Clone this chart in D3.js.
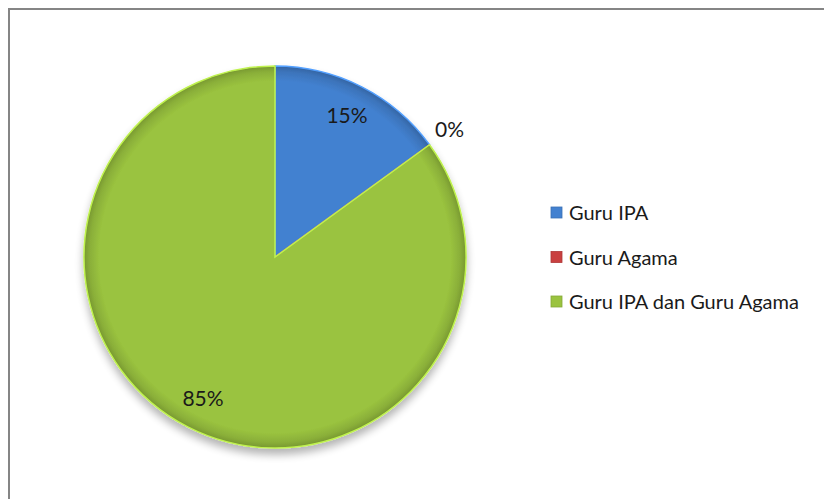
<!DOCTYPE html>
<html><head><meta charset="utf-8">
<script src="https://cdn.jsdelivr.net/npm/d3@7"></script>
<style>body{margin:0;background:#fff}svg{display:block}</style>
</head><body>
<script>
const categories = ["Guru IPA", "Guru Agama", "Guru IPA dan Guru Agama"];
const values = [15, 0, 85];
const labels = ["15%", "0%", "85%"];
const colors = ["#4381D0", "#C94040", "#9AC33F"];

const W = 824, H = 499;
const svg = d3.select("body").append("svg").attr("width", W).attr("height", H);
const defs = svg.append("defs");

svg.append("rect").attr("x", 9).attr("y", 9).attr("width", W).attr("height", H)
  .attr("fill", "#fff").attr("stroke", "#858585").attr("stroke-width", 2);

const cx = 275, cy = 257, r = 191;

colors.forEach((c, i) => {
  const g = defs.append("radialGradient").attr("id", "g" + i)
    .attr("gradientUnits", "userSpaceOnUse").attr("cx", 0).attr("cy", 0).attr("r", r);
  const base = d3.color(c);
  g.append("stop").attr("offset", "0%").attr("stop-color", base);
  g.append("stop").attr("offset", "92%").attr("stop-color", base);
  g.append("stop").attr("offset", "97%").attr("stop-color", base.darker(0.3));
  g.append("stop").attr("offset", "100%").attr("stop-color", base.darker(0.7));
});
const f = defs.append("filter").attr("id", "sh").attr("x", "-20%").attr("y", "-20%").attr("width", "140%").attr("height", "150%");
f.append("feGaussianBlur").attr("in", "SourceAlpha").attr("stdDeviation", 4);
f.append("feOffset").attr("dx", 0).attr("dy", 6).attr("result", "b");
f.append("feComponentTransfer").append("feFuncA").attr("type", "linear").attr("slope", 0.3);
const m = f.append("feMerge"); m.append("feMergeNode"); m.append("feMergeNode").attr("in", "SourceGraphic");

const pie = d3.pie().sort(null).value(d => d)(values);
const arc = d3.arc().innerRadius(0).outerRadius(r);
const g = svg.append("g").attr("transform", `translate(${cx},${cy})`);
g.append("g").attr("filter", "url(#sh)").selectAll("path").data(pie).join("path")
  .attr("d", arc).attr("fill", (d, i) => `url(#g${i})`)
  .attr("stroke", (d, i) => d3.color(colors[i]).brighter(0.6)).attr("stroke-width", 1.5);

g.selectAll("text").data(pie).join("text")
  .attr("transform", d => {
    const a = (d.startAngle + d.endAngle) / 2;
    const rr = d.value > 0 ? 0.83 * r : 1.13 * r;
    return `translate(${rr * Math.sin(a)},${-rr * Math.cos(a)})`;
  })
  .attr("text-anchor", "middle").attr("dy", "0.35em")
  .style("font-family", "Lato, 'Open Sans', sans-serif").style("font-size", "21px")
  .attr("fill", "#1a1a1a")
  .text((d, i) => labels[i]);

const leg = svg.append("g").attr("transform", "translate(551,213)");
const row = leg.selectAll("g").data(categories).join("g")
  .attr("transform", (d, i) => `translate(0,${i * 44.5})`);
row.append("rect").attr("x", 0).attr("y", -6).attr("width", 11).attr("height", 11)
  .attr("fill", (d, i) => colors[i]).attr("stroke", (d, i) => d3.color(colors[i]).darker(0.4)).attr("stroke-width", 0.8);
row.append("text").attr("x", 18).attr("dy", "0.35em")
  .style("font-family", "Lato, 'Open Sans', sans-serif").style("font-size", "20px")
  .attr("fill", "#1a1a1a").text(d => d);
</script>
</body></html>
